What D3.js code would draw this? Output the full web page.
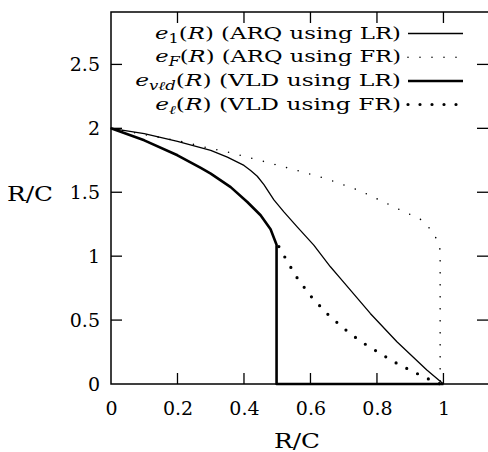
<!DOCTYPE html>
<html>
<head>
<meta charset="utf-8">
<script src="https://cdn.jsdelivr.net/npm/d3@7"></script>
<style>
    body { margin: 0; background: #fff; }
    svg { display: block; }
    text { font-family: "DejaVu Serif", serif; fill: #000; }
</style>
</head>
<body>
<svg id="chart"></svg>
<script>
// e1(R): ARQ using LR
const e1R   = [0, 0.1, 0.2, 0.3, 0.35, 0.4, 0.42, 0.44, 0.46, 0.49, 0.52, 0.56, 0.61, 0.66, 0.69, 0.78, 0.86, 0.95, 1.0];
const e1Val = [2, 1.958, 1.898, 1.828, 1.775, 1.71, 1.67, 1.625, 1.56, 1.44, 1.346, 1.229, 1.086, 0.917, 0.826, 0.552, 0.33, 0.109, 0];
// eF(R): ARQ using FR
const eFR   = [0, 0.14, 0.21, 0.28, 0.35, 0.42, 0.49, 0.55, 0.62, 0.66, 0.69, 0.75, 0.82, 0.88, 0.93, 0.965, 0.982, 0.99, 0.99];
const eFVal = [2, 1.932, 1.898, 1.854, 1.815, 1.768, 1.72, 1.677, 1.627, 1.594, 1.567, 1.51, 1.424, 1.35, 1.29, 1.2, 1.12, 1.05, 0];
// evld(R): VLD using LR
const eVldR   = [0, 0.1, 0.2, 0.27, 0.3, 0.36, 0.41, 0.45, 0.48, 0.498, 0.498, 1.0];
const eVldVal = [2, 1.906, 1.789, 1.69, 1.646, 1.54, 1.424, 1.32, 1.21, 1.09, 0, 0];
// el(R): VLD using FR
const eLR   = [0.505, 0.53, 0.56, 0.6, 0.65, 0.7, 0.75, 0.8, 0.85, 0.9, 0.95, 0.99];
const eLVal = [1.075, 0.96, 0.83, 0.69, 0.55, 0.435, 0.335, 0.255, 0.175, 0.108, 0.045, 0];

const xTicks = [0, 0.2, 0.4, 0.6, 0.8, 1];
const yTicks = [0, 0.5, 1, 1.5, 2, 2.5];
const seriesNames = [
    [['e', false], ['1', false], ' (ARQ using LR)'],
    [['e', false], ['F', true], ' (ARQ using FR)'],
    [['e', false], ['vℓd', true], ' (VLD using LR)'],
    [['e', false], ['ℓ', true], ' (VLD using FR)']
];

class ChartPage {
    constructor() {
        this.width = 488;
        this.height = 452;
        this.svg = d3.select('#chart')
            .attr('width', this.width)
            .attr('height', this.height);
        this.x = d3.scaleLinear().domain([0, 1.134]).range([111, 488]);
        this.y = d3.scaleLinear().domain([0, 2.91]).range([384, 12]);
        this.draw();
    }
    // stretch a text sideways so that it spans the given width
    fitWidth(textSel, width, tx, ty) {
        const w = textSel.node().getBBox().width;
        textSel.attr('transform', `translate(${tx}, ${ty}) scale(${width / w}, 1)`);
    }
    draw() {
        const x = this.x, y = this.y;
        const svg = this.svg;
        const tick = 11;
        const fs = 19;

        // frame
        svg.append('rect')
            .attr('x', x(0)).attr('y', y(2.91))
            .attr('width', x(1.134) - x(0) + 1)
            .attr('height', y(0) - y(2.91))
            .attr('fill', 'none').attr('stroke', '#000').attr('stroke-width', 1.5);

        const xAxis = d3.axisBottom(x).tickValues(xTicks).tickSize(0).tickPadding(18)
            .tickFormat(d3.format('~g'));
        const yAxis = d3.axisLeft(y).tickValues(yTicks).tickSize(0).tickPadding(11)
            .tickFormat(d3.format('~g'));
        const gx = svg.append('g').attr('transform', `translate(0, ${y(0)})`).call(xAxis);
        const gy = svg.append('g').attr('transform', `translate(${x(0)}, 0)`).call(yAxis);
        [gx, gy].forEach(g => {
            g.select('.domain').remove();
            g.selectAll('text').attr('font-size', fs).attr('font-family', '"DejaVu Serif", serif');
        });

        // inward ticks on all four sides
        const ticks = svg.append('g').attr('stroke', '#000').attr('stroke-width', 1.3);
        xTicks.filter(d => d > 0).forEach(d => {
            ticks.append('line').attr('x1', x(d)).attr('x2', x(d)).attr('y1', y(0)).attr('y2', y(0) - tick);
            ticks.append('line').attr('x1', x(d)).attr('x2', x(d)).attr('y1', y(2.91)).attr('y2', y(2.91) + tick);
        });
        yTicks.filter(d => d > 0).forEach(d => {
            ticks.append('line').attr('x1', x(0)).attr('x2', x(0) + tick).attr('y1', y(d)).attr('y2', y(d));
            ticks.append('line').attr('x1', x(1.134)).attr('x2', x(1.134) - tick).attr('y1', y(d)).attr('y2', y(d));
        });

        // axis titles
        const yTitle = svg.append('text').attr('text-anchor', 'middle')
            .attr('font-size', 20).text('R/C');
        this.fitWidth(yTitle, 46, 30, 201);
        const xTitle = svg.append('text').attr('text-anchor', 'middle')
            .attr('font-size', 20).text('R/C');
        this.fitWidth(xTitle, 46, 297, 448);

        const line = d3.line().x(d => x(d[0])).y(d => y(d[1]));
        const styles = [
            { w: 1.3, dash: null, cap: 'butt' },
            { w: 1.6, dash: '0 12', cap: 'round' },
            { w: 2.6, dash: null, cap: 'butt' },
            { w: 3.2, dash: '0 12', cap: 'round' }
        ];
        const series = [
            d3.zip(e1R, e1Val),
            d3.zip(eFR, eFVal),
            d3.zip(eVldR, eVldVal),
            d3.zip(eLR, eLVal)
        ];
        series.forEach((s, i) => {
            const p = svg.append('path')
                .attr('d', line(s))
                .attr('fill', 'none')
                .attr('stroke', '#000')
                .attr('stroke-width', styles[i].w)
                .attr('stroke-linecap', styles[i].cap)
                .attr('stroke-linejoin', 'round');
            if (styles[i].dash) p.attr('stroke-dasharray', styles[i].dash);
        });

        // legend
        const legend = svg.append('g');
        const rowY = [33.5, 57.3, 81, 104.5];
        seriesNames.forEach((parts, i) => {
            const t = legend.append('text')
                .attr('text-anchor', 'end')
                .attr('font-size', 17);
            t.append('tspan').attr('font-style', 'italic').text(parts[0][0]);
            t.append('tspan').attr('font-size', 12).attr('dy', 4)
                .attr('font-style', parts[1][1] ? 'italic' : 'normal').text(parts[1][0]);
            t.append('tspan').attr('dy', -4).text('(');
            t.append('tspan').attr('font-style', 'italic').text('R');
            t.append('tspan').text(')' + parts[2]);
            this.fitWidth(t, 401 - (i === 2 ? 135 : 155), 401, rowY[i] + 5);

            const p = legend.append('path')
                .attr('d', line([[x.invert(408), y.invert(rowY[i])], [x.invert(463), y.invert(rowY[i])]]))
                .attr('fill', 'none').attr('stroke', '#000')
                .attr('stroke-width', styles[i].w)
                .attr('stroke-linecap', styles[i].cap);
            if (styles[i].dash) p.attr('stroke-dasharray', styles[i].dash);
        });
    }
}

document.body.onload = () => {
    new ChartPage();
};
</script>
</body>
</html>
